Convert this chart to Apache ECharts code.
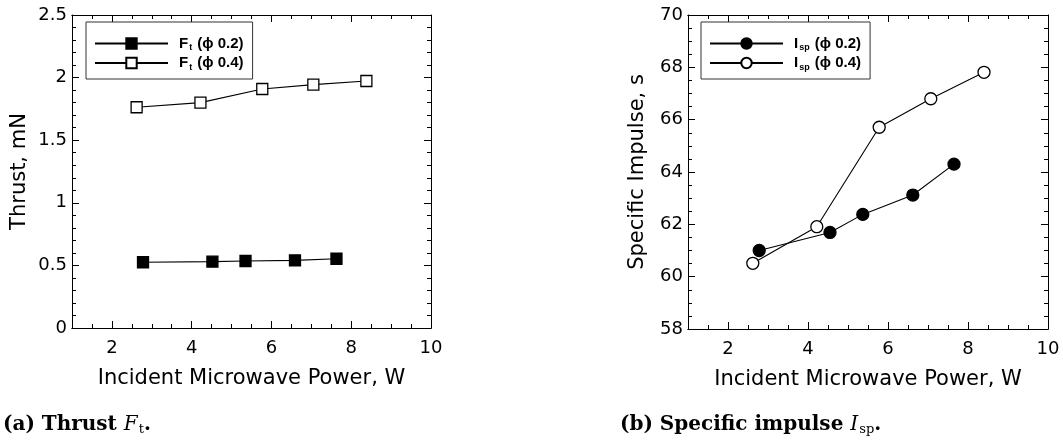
<!DOCTYPE html>
<html>
<head>
<meta charset="utf-8">
<script src="https://cdn.jsdelivr.net/npm/echarts@6/dist/echarts.min.js"></script>
<style>
  html, body { margin: 0; padding: 0; background: #fff; }
  #chart { width: 1063px; height: 443px; }
</style>
</head>
<body>
<div id="chart"></div>
<script>
// values
const powerThrust02 = [2.78, 4.52, 5.35, 6.59, 7.63]
const thrust02 = [0.525, 0.53, 0.535, 0.54, 0.553]
const powerThrust04 = [2.62, 4.22, 5.77, 7.05, 8.38]
const thrust04 = [1.763, 1.80, 1.909, 1.944, 1.973]

const powerIsp02 = [2.78, 4.55, 5.37, 6.62, 7.65]
const isp02 = [61.0, 61.69, 62.38, 63.12, 64.3]
const powerIsp04 = [2.62, 4.22, 5.78, 7.07, 8.4]
const isp04 = [60.51, 61.91, 65.71, 66.8, 67.81]

const xTickLabels = [2, 4, 6, 8, 10]

const black = '#000'
const sans = 'DejaVu Sans'
const legendFont = 'Liberation Sans'
const serif = 'DejaVu Serif'

function pairs(xs, ys) {
  return xs.map((x, i) => [x, ys[i]])
}

// 4 x axes for one grid: bottom major (labels), bottom minor, top major, top minor
function xAxesFor(grid) {
  const common = {
    type: 'value',
    gridIndex: grid,
    min: 1,
    max: 10,
    splitLine: { show: false },
    axisLine: { show: true, onZero: false, lineStyle: { color: black, width: 1 } }
  }
  return [
    Object.assign({}, common, {
      position: 'bottom',
      name: 'Incident Microwave Power, W',
      nameLocation: 'middle',
      nameGap: 40,
      nameTextStyle: { fontFamily: sans, fontSize: 21, color: black },
      axisTick: { show: true, inside: true, length: 7, customValues: xTickLabels, lineStyle: { color: black } },
      axisLabel: { show: true, customValues: xTickLabels, margin: 11, fontFamily: sans, fontSize: 18, color: black }
    }),
    Object.assign({}, common, {
      position: 'bottom',
      interval: 0.5,
      axisTick: { show: true, inside: true, length: 4, lineStyle: { color: black } },
      axisLabel: { show: false }
    }),
    Object.assign({}, common, {
      position: 'top',
      axisTick: { show: true, inside: true, length: 7, customValues: xTickLabels, lineStyle: { color: black } },
      axisLabel: { show: false }
    }),
    Object.assign({}, common, {
      position: 'top',
      interval: 0.5,
      axisTick: { show: true, inside: true, length: 4, lineStyle: { color: black } },
      axisLabel: { show: false }
    })
  ]
}

function yAxesFor(grid, min, max, interval, minorSplit, name, gap) {
  const common = {
    type: 'value',
    gridIndex: grid,
    min: min,
    max: max,
    interval: interval,
    splitLine: { show: false },
    axisLine: { show: true, onZero: false, lineStyle: { color: black, width: 1 } },
    axisTick: { show: true, inside: true, length: 7, lineStyle: { color: black } },
    minorTick: { show: true, splitNumber: minorSplit, length: 4, lineStyle: { color: black } }
  }
  return [
    Object.assign({}, common, {
      position: 'left',
      name: name,
      nameLocation: 'middle',
      nameGap: gap,
      nameTextStyle: { fontFamily: sans, fontSize: 21, color: black },
      axisLabel: { show: true, margin: 5, fontFamily: sans, fontSize: 18, color: black }
    }),
    Object.assign({}, common, {
      position: 'right',
      axisLabel: { show: false }
    })
  ]
}

function legendFor(left, names, labels) {
  return {
    orient: 'vertical',
    left: left,
    top: 22,
    padding: [14, 9, 7, 8],
    itemGap: 3,
    itemWidth: 73,
    itemHeight: 13,
    borderColor: '#333',
    borderWidth: 1,
    data: names,
    formatter: name => labels[name],
    textStyle: {
      fontFamily: legendFont,
      fontWeight: 'bold',
      fontSize: 15,
      color: black,
      padding: [0, 0, 0, 6],
      rich: {
        n: { fontFamily: legendFont, fontWeight: 'bold', fontSize: 15, color: black },
        s: { fontFamily: legendFont, fontWeight: 'bold', fontSize: 9, color: black, padding: [9, 1, 0, 1] }
      }
    }
  }
}

function lineSeries(name, xi, yi, data, symbol, filled) {
  return {
    name: name,
    type: 'line',
    xAxisIndex: xi,
    yAxisIndex: yi,
    data: data,
    symbol: symbol,
    symbolSize: symbol === 'rect' ? 11 : 12,
    showAllSymbol: true,
    lineStyle: { color: black, width: 1.1 },
    itemStyle: { color: filled ? black : '#fff', borderColor: black, borderWidth: 1.3 },
    emphasis: { disabled: true },
    animation: false
  }
}

function caption(left, text) {
  return {
    type: 'text',
    left: left,
    top: 415,
    style: {
      text: text,
      rich: {
        b: { fontFamily: serif, fontWeight: 'bold', fontSize: 20, fill: black },
        i: { fontFamily: serif, fontStyle: 'italic', fontSize: 20, fill: black },
        s: { fontFamily: serif, fontSize: 13, fill: black, padding: [9, 0, 0, 1] }
      }
    }
  }
}

const chart = echarts.init(document.getElementById('chart'))

chart.setOption({
  backgroundColor: '#fff',
  animation: false,
  grid: [
    { left: 72, top: 15, width: 359, height: 313 },
    { left: 688, top: 15, width: 360, height: 314 }
  ],
  xAxis: xAxesFor(0).concat(xAxesFor(1)),
  yAxis: yAxesFor(0, 0, 2.5, 0.5, 5, 'Thrust, mN', 42)
    .concat(yAxesFor(1, 58, 70, 2, 4, 'Specific Impulse, s', 40)),
  legend: [
    legendFor(86, ['ft02', 'ft04'], {
      ft02: '{n|F}{s|t}{n| (ϕ 0.2)}',
      ft04: '{n|F}{s|t}{n| (ϕ 0.4)}'
    }),
    legendFor(701, ['isp02', 'isp04'], {
      isp02: '{n|I}{s|sp}{n| (ϕ 0.2)}',
      isp04: '{n|I}{s|sp}{n| (ϕ 0.4)}'
    })
  ],
  series: [
    lineSeries('ft02', 0, 0, pairs(powerThrust02, thrust02), 'rect', true),
    lineSeries('ft04', 0, 0, pairs(powerThrust04, thrust04), 'rect', false),
    lineSeries('isp02', 4, 2, pairs(powerIsp02, isp02), 'circle', true),
    lineSeries('isp04', 4, 2, pairs(powerIsp04, isp04), 'circle', false)
  ],
  graphic: [
    caption(3, '{b|(a) Thrust }{i|F}{s|t}{b|.}'),
    caption(620, '{b|(b) Specific impulse }{i|I}{s|sp}{b|.}')
  ]
})
</script>
</body>
</html>
